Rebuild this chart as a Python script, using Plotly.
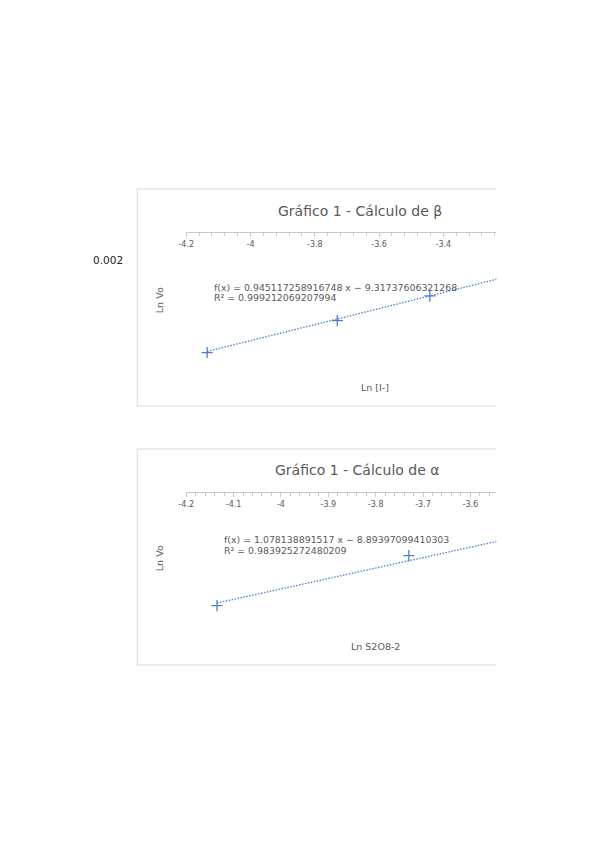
import plotly.graph_objects as go

W, H = 599, 848

# ---- data ----
x_beta = [-4.135, -3.730, -3.442]          # Ln [I-]
y_beta = [-13.240, -12.862, -12.571]       # Ln Vo
slope_beta, icpt_beta = 0.945117258916748, -9.31737606321268
eq_beta = "f(x) = 0.945117258916748 x − 9.31737606321268"
r2_beta = "R² = 0.999212069207994"
ticks_beta = [-4.2, -4.0, -3.8, -3.6, -3.4]
ticklabels_beta = ["-4.2", "-4", "-3.8", "-3.6", "-3.4"]

x_alpha = [-4.135, -3.730, -3.442]         # Ln S2O8-2
y_alpha = [-13.380, -12.863, -12.629]      # Ln Vo
slope_alpha, icpt_alpha = 1.078138891517, -8.89397099410303
eq_alpha = "f(x) = 1.078138891517 x − 8.89397099410303"
r2_alpha = "R² = 0.983925272480209"
ticks_alpha = [-4.2, -4.1, -4.0, -3.9, -3.8, -3.7, -3.6]
ticklabels_alpha = ["-4.2", "-4.1", "-4", "-3.9", "-3.8", "-3.7", "-3.6"]

title_beta = "Gráfico 1 - Cálculo de β"
title_alpha = "Gráfico 1 - Cálculo de α"
xtitle_beta = "Ln [I-]"
xtitle_alpha = "Ln S2O8-2"
ytitle = "Ln Vo"
cell_value = "0.002"

BLUE = "#4f7fc9"
GRAY = "#595959"
FONT = "DejaVu Sans"

# horizontal compensation for the capture (measured)
SX, OX = 0.986, 7.9

def px(x):
    return ((x - OX) / SX) / W

def py(y):
    return 1 - y / H

fig = go.Figure()

# chart 1 (beta)
fig.add_trace(go.Scatter(x=x_beta, y=y_beta, mode="markers",
                         marker=dict(symbol="cross-thin", size=8, line=dict(color=BLUE, width=1.3)),
                         xaxis="x", yaxis="y"))
tx = [x_beta[0], -3.0]
fig.add_trace(go.Scatter(x=tx, y=[slope_beta * v + icpt_beta for v in tx], mode="lines",
                         line=dict(color=BLUE, width=1.3, dash="1.5px,1.5px"), xaxis="x", yaxis="y"))

# chart 2 (alpha)
fig.add_trace(go.Scatter(x=x_alpha, y=y_alpha, mode="markers",
                         marker=dict(symbol="cross-thin", size=8, line=dict(color=BLUE, width=1.3)),
                         xaxis="x2", yaxis="y2"))
tx2 = [x_alpha[0], -3.0]
fig.add_trace(go.Scatter(x=tx2, y=[slope_alpha * v + icpt_alpha for v in tx2], mode="lines",
                         line=dict(color=BLUE, width=1.3, dash="1.5px,1.5px"), xaxis="x2", yaxis="y2"))

xcommon = dict(side="bottom", anchor="free", showgrid=False, zeroline=False,
               showline=True, linecolor="#c8c8c8", linewidth=1,
               ticks="outside", ticklen=4, tickcolor="#c8c8c8",
               tickfont=dict(family=FONT, size=8, color=GRAY))

fig.update_layout(
    width=W, height=H, margin=dict(l=0, r=0, t=0, b=0),
    paper_bgcolor="white", plot_bgcolor="rgba(0,0,0,0)",
    showlegend=False, hovermode=False,
    xaxis=dict(domain=[px(186), px(496)], range=[-4.2, -3.235], position=py(232),
               tickmode="array", tickvals=ticks_beta, ticktext=ticklabels_beta,
               minor=dict(dtick=0.04, tick0=-4.2, ticks="outside", ticklen=3, tickcolor="#c8c8c8"),
               **xcommon),
    yaxis=dict(domain=[py(400), py(232)], range=[-13.798, -11.817], visible=False, anchor="x"),
    xaxis2=dict(domain=[px(186), px(496)], range=[-4.2, -3.545], position=py(492),
                tickmode="array", tickvals=ticks_alpha, ticktext=ticklabels_alpha,
                minor=dict(dtick=0.02, tick0=-4.2, ticks="outside", ticklen=3, tickcolor="#c8c8c8"),
                **xcommon),
    yaxis2=dict(domain=[py(660), py(492)], range=[-13.941, -12.205], visible=False, anchor="x2"),
)

# chart frames (right side cut off by the page)
for top, bot in [(189, 406), (449, 665)]:
    for (x0, y0, x1, y1) in [(137, top, 496, top), (137, top, 137, bot), (137, bot, 496, bot)]:
        fig.add_shape(type="line", xref="paper", yref="paper",
                      x0=px(x0), y0=py(y0), x1=px(x1), y1=py(y1),
                      line=dict(color="#d9d9d9", width=1))

def ann(text, x, y, size, color=GRAY, xanchor="center", angle=0):
    fig.add_annotation(text=text, x=px(x), y=py(y), xref="paper", yref="paper",
                       showarrow=False, xanchor=xanchor, yanchor="middle", textangle=angle,
                       font=dict(family=FONT, size=size, color=color))

ann(title_beta, 360, 211, 14)
ann(title_alpha, 357, 470, 14)
ann(eq_beta, 212, 288, 9.4, xanchor="left")
ann(r2_beta, 212, 298, 9.4, xanchor="left")
ann(eq_alpha, 222, 539, 9.4, xanchor="left")
ann(r2_alpha, 222, 550, 9.4, xanchor="left")
ann(ytitle, 159, 300, 9.5, angle=-90)
ann(ytitle, 159, 558, 9.5, angle=-90)
ann(xtitle_beta, 375, 387, 9.5)
ann(xtitle_alpha, 375, 646, 9.5)
ann(cell_value, 108, 260, 10.5, color="#222222")

fig.write_html("out.html",
               config={"responsive": False, "displayModeBar": False, "staticPlot": True},
               post_script="document.body.style.margin='0';document.body.style.overflow='hidden';")
